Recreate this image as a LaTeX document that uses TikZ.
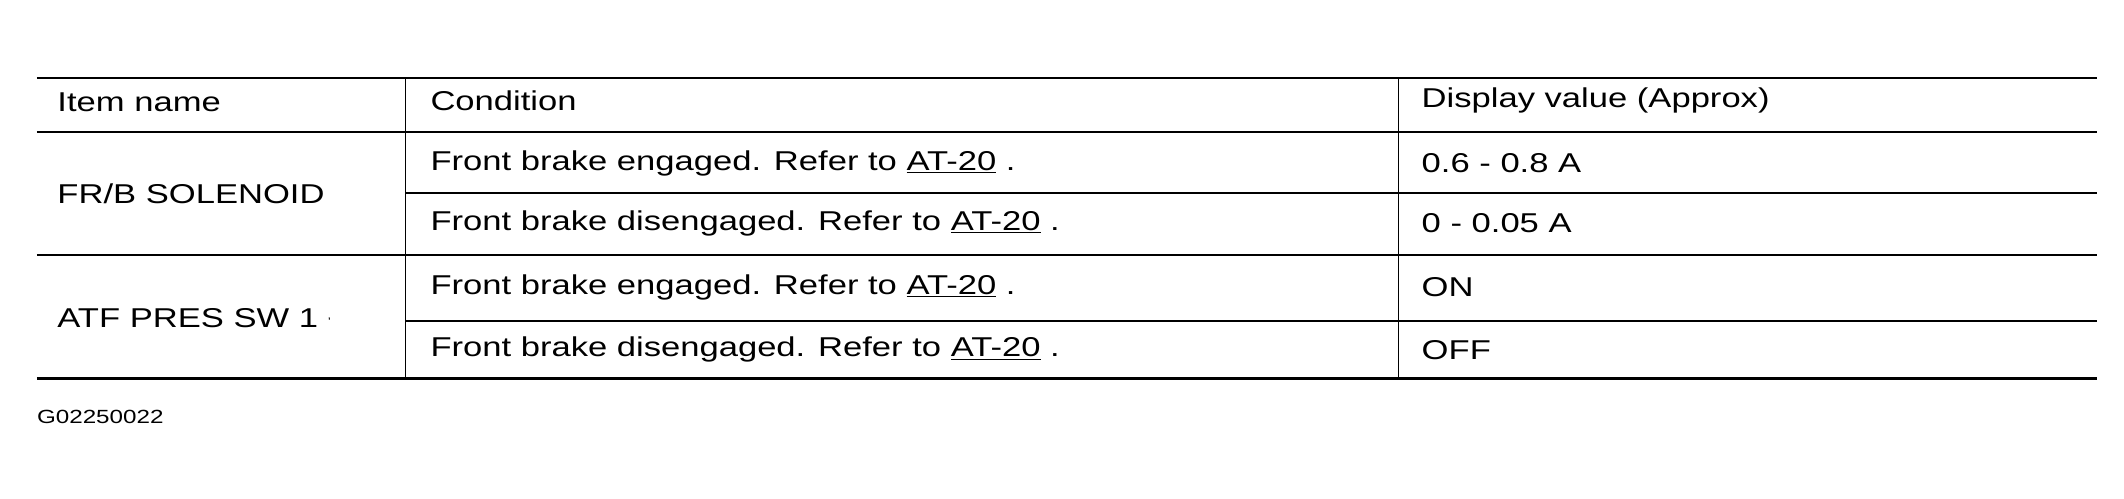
\documentclass[tikz,border=0pt]{standalone}
\usepackage{fontspec}
\setmainfont{Liberation Sans}[FakeStretch=1.27]
\begin{document}
\begin{tikzpicture}
    [x=1pt,y=-1pt,
     cell_style/.style={anchor=west,inner sep=0pt,font=\fontsize{20}{22}\selectfont},
     rule_style/.style={draw=black,line width=1.4pt},
     thick_rule_style/.style={draw=black,line width=2.6pt}]
        \useasboundingbox (0,0) rectangle (1560,366);
        % rules
        \coordinate (tl) at (27,57);
        \coordinate (tr) at (1540,57);
        \coordinate (bl) at (27,278);
        \coordinate (br) at (1540,278);
        \draw[rule_style] (tl) -- (tr);
        \draw[thick_rule_style] (bl) -- (br);
        \draw[rule_style] (27,97) -- (1540,97);
        \draw[rule_style] (27,187) -- (1540,187);
        \draw[rule_style] (298,142) -- (1540,142);
        \draw[rule_style] (298,236) -- (1540,236);
        \draw[line width=1pt] (298,57) -- (298,278);
        \draw[line width=1pt] (1027,57) -- (1027,278);
        % header
        \node[cell_style] (h1) at (42,75) {Item name};
        \node[cell_style] (h2) at (316,74) {Condition};
        \node[cell_style] (h3) at (1044,74) {Display value (Approx)};
        % items
        \node[cell_style] (i1) at (42,142) {FR/B SOLENOID};
        \node[cell_style] (i2) at (42,234) {ATF PRES SW 1 \raisebox{2pt}{\fontsize{8}{8}\selectfont '}};
        % conditions
        \node[cell_style] (c1) at (316,120) {Front brake engaged. Refer to \underline{AT-20} .};
        \node[cell_style] (c2) at (316,164) {Front brake disengaged. Refer to \underline{AT-20} .};
        \node[cell_style] (c3) at (316,211) {Front brake engaged. Refer to \underline{AT-20} .};
        \node[cell_style] (c4) at (316,257) {Front brake disengaged. Refer to \underline{AT-20} .};
        % values
        \node[cell_style] (d1) at (1044,120) {0.6 - 0.8 A};
        \node[cell_style] (d2) at (1044,164) {0 - 0.05 A};
        \node[cell_style] (d3) at (1044,211) {ON};
        \node[cell_style] (d4) at (1044,257) {OFF};
        \node[cell_style,font=\fontsize{14}{16}\selectfont] (fig) at (27,306) {G02250022};
    \end{tikzpicture}
\end{document}
